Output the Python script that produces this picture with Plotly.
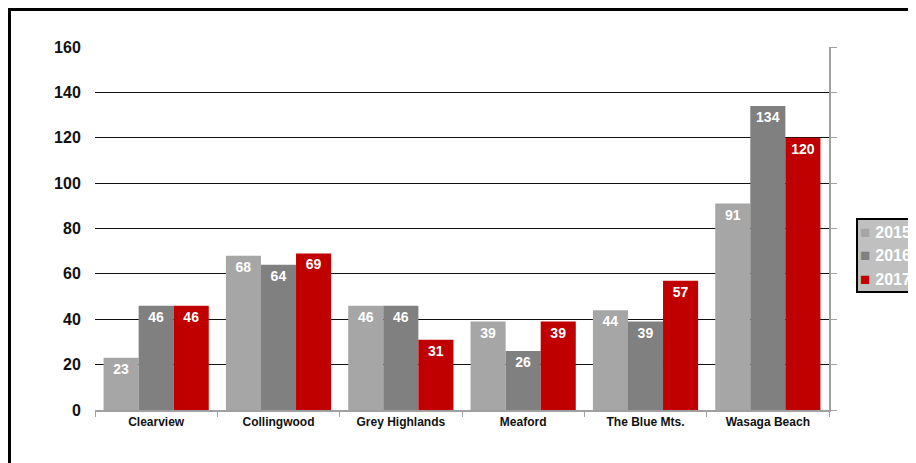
import plotly.graph_objects as go

categories = ["Clearview", "Collingwood", "Grey Highlands", "Meaford", "The Blue Mts.", "Wasaga Beach"]
years = ["2015", "2016", "2017"]
v2015 = [23, 68, 46, 39, 44, 91]
v2016 = [46, 64, 46, 26, 39, 134]
v2017 = [46, 69, 31, 39, 57, 120]
colors = ["#A6A6A6", "#808080", "#C00000"]
y_ticks = [0, 20, 40, 60, 80, 100, 120, 140, 160]

fig = go.Figure()
for name, vals, col in zip(years, [v2015, v2016, v2017], colors):
    fig.add_trace(go.Bar(
        x=categories, y=vals, name=name,
        marker=dict(color=col, line=dict(width=0)),
        text=[str(v) for v in vals],
        textposition="inside", insidetextanchor="end", textangle=0,
        textfont=dict(family="Arial, Liberation Sans", size=14, color="white", weight="bold"),
        constraintext="none", showlegend=False,
    ))

# invisible trace for right-side axis line
fig.add_trace(go.Scatter(x=[categories[0]], y=[0], yaxis="y2", showlegend=False,
                         mode="markers", marker=dict(opacity=0), hoverinfo="skip"))

legend_text = "<br>".join(
    f"<span style='font-size:17px;color:{c}'>■</span>&nbsp;<span style='font-size:16px'><b>{y}</b></span>"
    for y, c in zip(years, colors)
)

fig.update_layout(
    width=908, height=455,
    margin=dict(l=87, r=87, t=39, b=53, autoexpand=False),
    paper_bgcolor="white", plot_bgcolor="white",
    barmode="group", bargap=0.14, bargroupgap=0,
    font=dict(family="Arial, Liberation Sans", color="#111111"),
    xaxis=dict(
        showgrid=False, showline=True, linecolor="#A0A0A0", linewidth=1.5,
        ticks="outside", tickson="boundaries", ticklen=5, tickcolor="#A0A0A0",
        tickfont=dict(size=12, weight="bold", color="#111111"),
    ),
    yaxis=dict(
        range=[0, 160], tickvals=y_ticks, showgrid=True, gridcolor="#111111", gridwidth=1,
        zeroline=False, showline=False, ticks="outside", ticklen=10, tickcolor="white",
        tickfont=dict(size=16, weight="bold", color="#111111"),
    ),
    yaxis2=dict(
        range=[0, 160], tickvals=y_ticks, overlaying="y", side="right",
        showgrid=False, zeroline=False, showline=True, linecolor="#A0A0A0", linewidth=1.5,
        ticks="outside", ticklen=6, tickcolor="#A0A0A0", showticklabels=False,
    ),
    annotations=[dict(
        xref="paper", yref="paper", x=1.0368, y=0.529, xanchor="left", yanchor="top",
        text=legend_text, showarrow=False, align="left",
        font=dict(size=18, color="white", family="Arial, Liberation Sans"),
        bgcolor="#C0C0C0", bordercolor="black", borderwidth=2, borderpad=2,
    )],
    shapes=[dict(type="rect", xref="paper", yref="paper",
                 x0=-0.1165, y0=-0.3, x1=1.3, y1=1.103,
                 line=dict(color="black", width=3), layer="above")],
    showlegend=False,
)

fig.write_html("out.html")
